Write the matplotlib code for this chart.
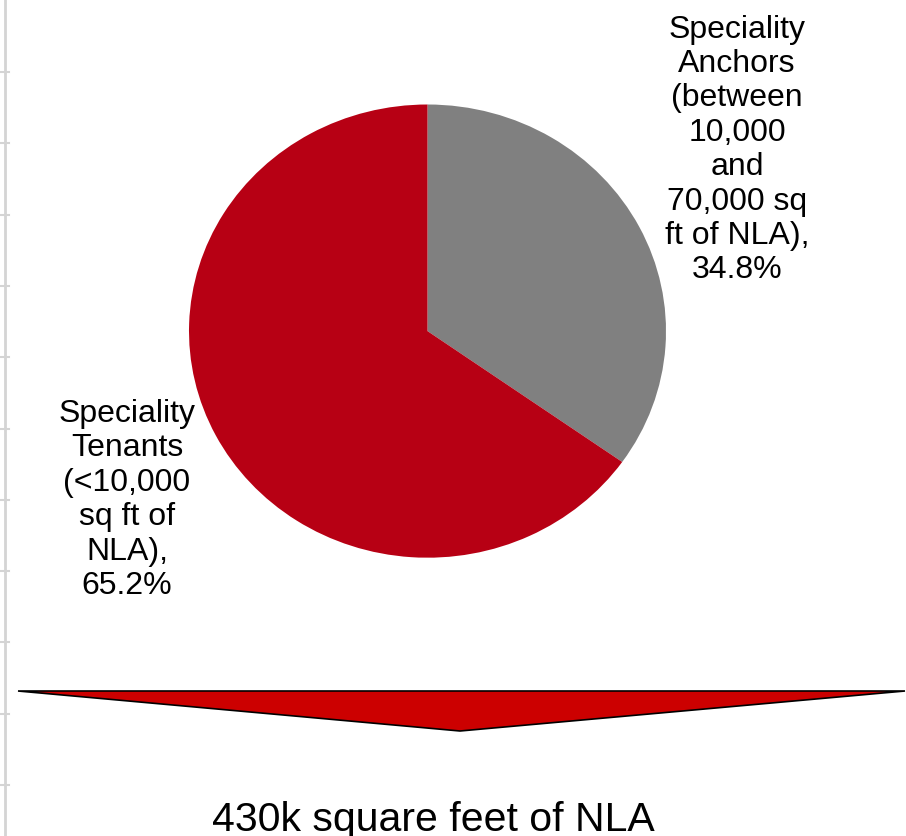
import numpy as np
from matplotlib import pyplot as plt
from matplotlib.patches import Polygon
from matplotlib.lines import Line2D

labels = ["Speciality\nAnchors\n(between\n10,000\nand\n70,000 sq\nft of NLA),\n34.8%",
          "Speciality\nTenants\n(<10,000\nsq ft of\nNLA),\n65.2%"]
shares = [34.8, 65.2]
colors = ["#808080", "#B70014"]
footer = "430k square feet of NLA"

W, H = 906, 836
plt.rcParams['font.family'] = ['Liberation Sans', 'DejaVu Sans']

fig = plt.figure(figsize=(W / 100, H / 100), dpi=100)

def px(x, y):
    # pixel coords (top-left origin) -> figure fraction
    return x / W, 1 - y / H

# pie axes sized to the (slightly stretched) ellipse in the reference
left, top, right, bottom = 189, 104.5, 666, 557.7
ax = fig.add_axes([left / W, 1 - bottom / H, (right - left) / W, (bottom - top) / H])
ax.pie(shares, colors=colors, startangle=90, counterclock=False, radius=1)
ax.set_aspect('auto')
ax.set_xlim(-1, 1)
ax.set_ylim(-1, 1)
ax.axis('off')

# slice labels
fig.text(*px(737, 150), labels[0], ha='center', va='center', fontsize=23, linespacing=1.19)
fig.text(*px(127, 500), labels[1], ha='center', va='center', fontsize=23, linespacing=1.19)

# big down arrow
tri = Polygon([px(18, 691), px(905, 691), px(460, 731)], closed=True,
              facecolor="#CC0000", edgecolor="black", linewidth=1.2,
              transform=fig.transFigure)
fig.add_artist(tri)

fig.text(*px(433, 831), footer, ha='center', va='baseline', fontsize=29.5)

# faint gridline residue on the left edge
fig.add_artist(Line2D([5 / W, 5 / W], [0, 1], color="#d4d4d4", linewidth=2,
                      transform=fig.transFigure))
for y in np.arange(72, H, 71.3):
    fig.add_artist(Line2D([0, 9 / W], [1 - y / H, 1 - y / H], color="#d4d4d4",
                          linewidth=1.5, transform=fig.transFigure))

fig.savefig("out.png", dpi=100)
